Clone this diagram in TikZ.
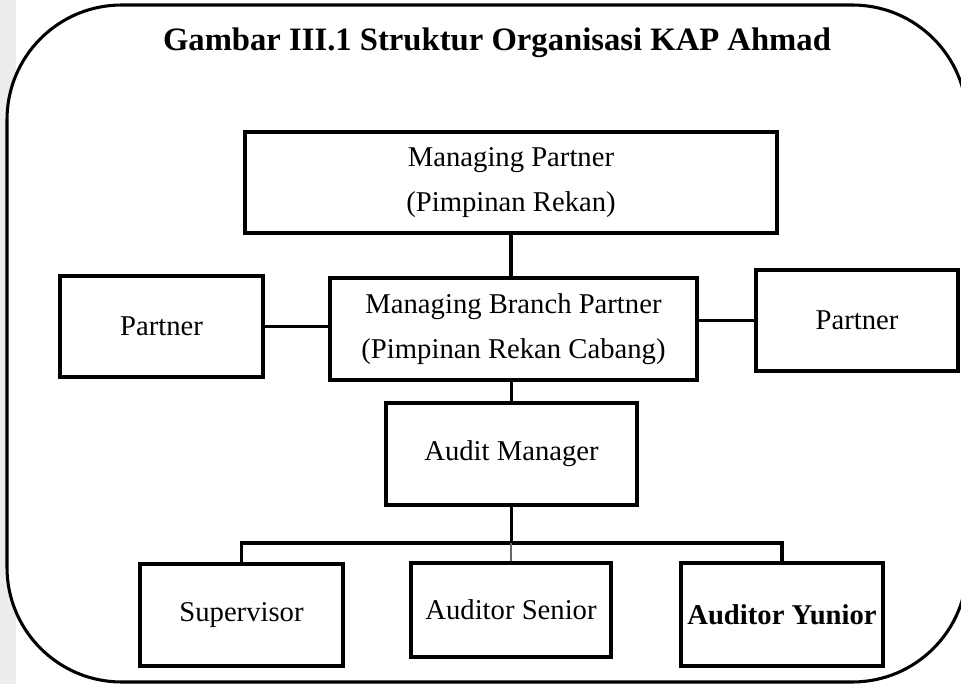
\documentclass[tikz,border=0pt]{standalone}
\usepackage{fontspec}
\setmainfont{Liberation Serif}
\usepackage{tikz}
\usetikzlibrary{positioning}

\begin{document}
\begin{tikzpicture}[
        x=0.75pt, y=-0.75pt,
        box/.style={rectangle, draw, line width=2.3pt, inner sep=0pt, align=center,
                    font=\fontsize{21.5}{33.75}\selectfont},
        conn/.style={line width=2.3pt},
        thinconn/.style={line width=1pt, draw=black!60},
    ]
        \useasboundingbox (0,0) rectangle (961,684);
        \clip (0,0) rectangle (961,684);
        \fill[black!7] (0,0) rectangle (16,684);
        \draw[line width=2.3pt, rounded corners=86pt, fill=white] (7,5) rectangle (967,682);

        \node[font=\bfseries\fontsize{24.5}{30}\selectfont] (title) at (497,43) {Gambar III.1 Struktur Organisasi KAP Ahmad};

        \node[box, minimum width=399pt, minimum height=75.75pt] (mp) at (511,182.5) {Managing Partner\\(Pimpinan Rekan)};
        \node[box, minimum width=275.25pt, minimum height=76.5pt] (mbp) at (513.5,329) {Managing Branch Partner\\(Pimpinan Rekan Cabang)};
        \node[box, minimum width=152.25pt, minimum height=75.75pt] (pl) at (161.5,326.5) {Partner};
        \node[box, minimum width=151.5pt, minimum height=75.75pt] (pr) at (857,320.5) {Partner};
        \node[box, minimum width=188.25pt, minimum height=76.5pt] (am) at (511.5,454) {Audit Manager};
        \node[box, minimum width=152.25pt, minimum height=76.5pt] (sup) at (241.5,615) {Supervisor};
        \node[box, minimum width=150pt, minimum height=70.5pt] (sen) at (511,610) {Auditor Senior};
        \node[box, minimum width=151.5pt, minimum height=77.25pt] (yun) at (782,614.5) {\textbf{Auditor Yunior}};

        \coordinate (bar) at (511.5,543);

        \draw[conn] (mp.south) -- (mp.south |- mbp.north);
        \draw[conn] (pl.east) -- (pl.east -| mbp.west);
        \draw[conn] (pr.west) -- (pr.west -| mbp.east);
        \draw[conn] (am.north |- mbp.south) -- (am.north);
        \draw[conn] (am.south) -- (bar);
        \draw[conn] (sup.north) -- (sup.north |- bar) -- (yun.north |- bar) -- (yun.north);
        \draw[thinconn] (sen.north |- bar) -- (sen.north);
    \end{tikzpicture}
\end{document}
